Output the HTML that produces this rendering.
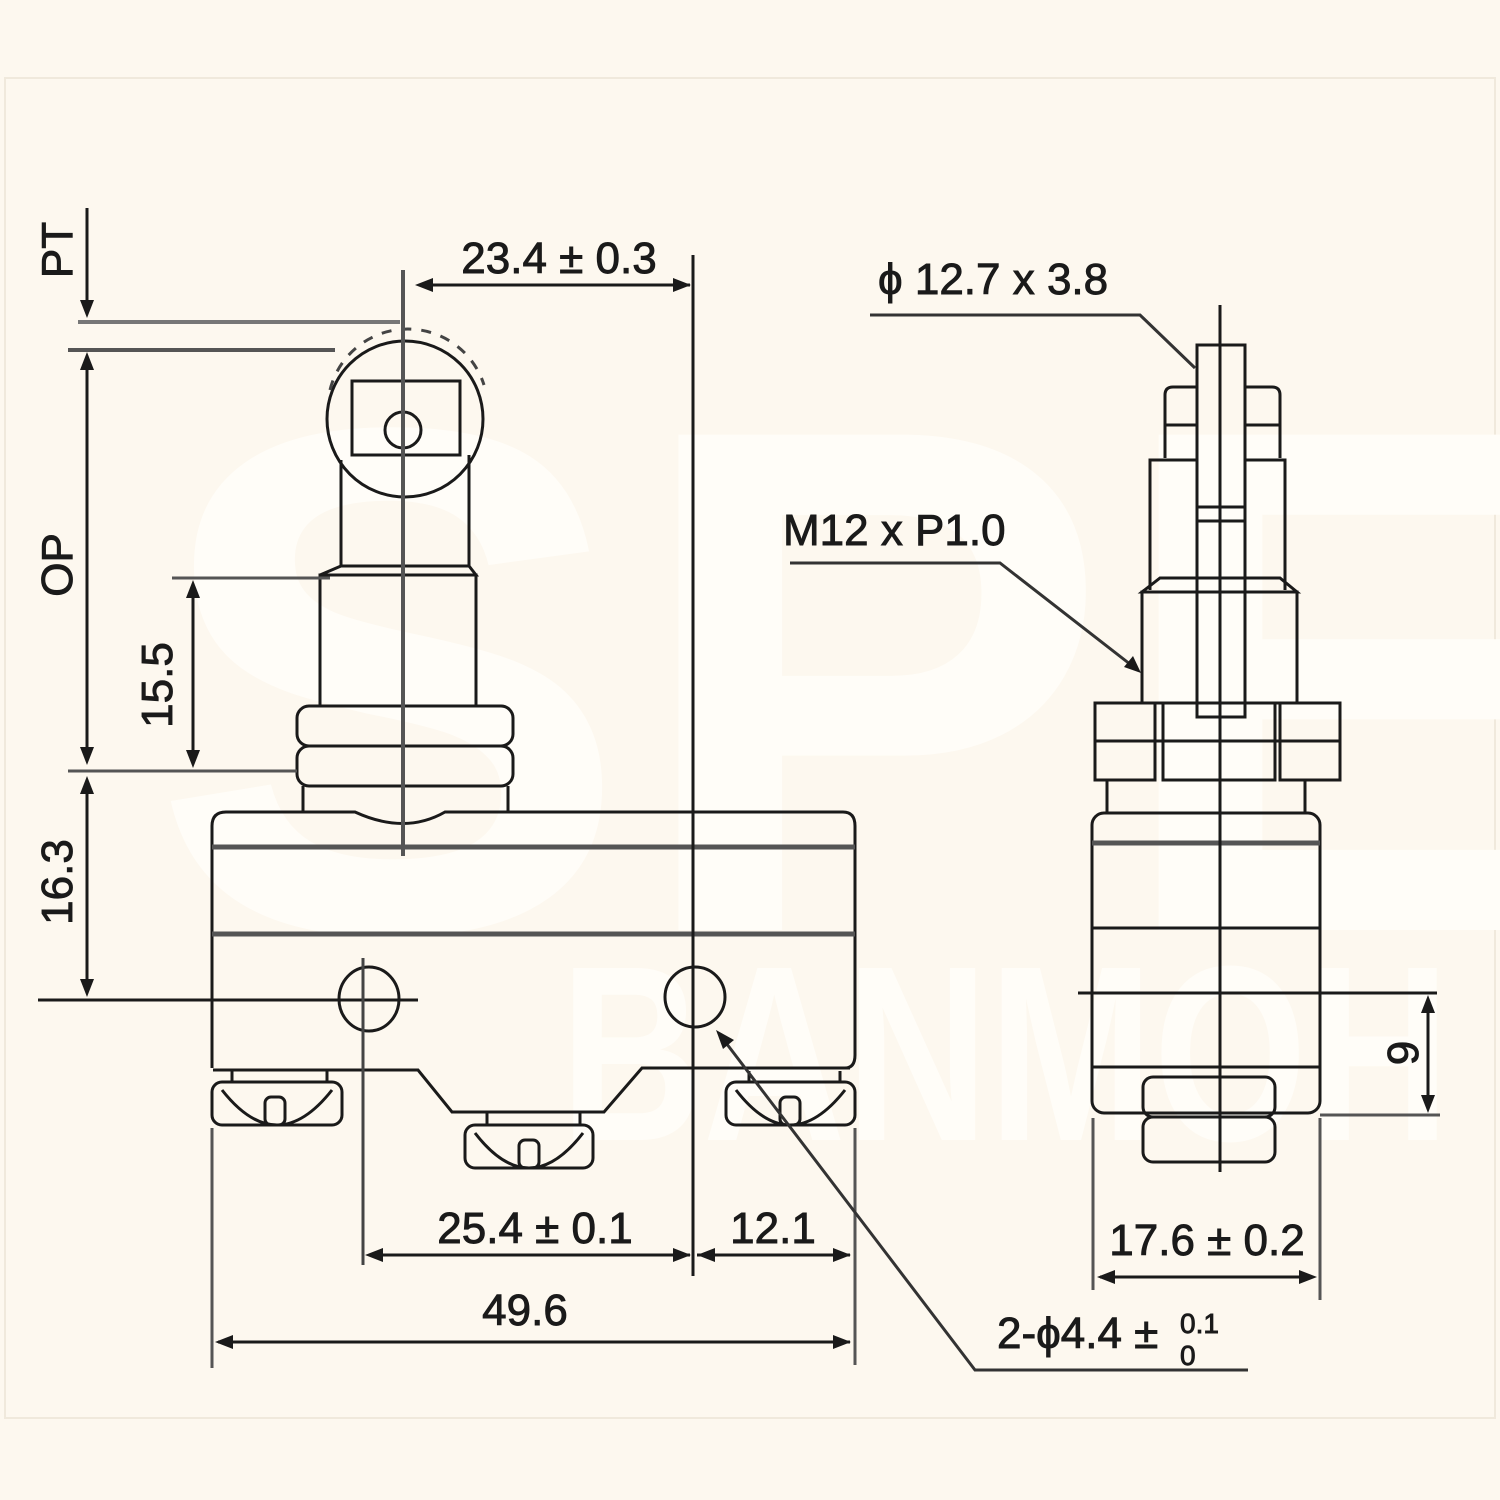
<!DOCTYPE html>
<html><head><meta charset="utf-8"><style>
html,body{margin:0;padding:0;background:#fdf8ef;}
svg{display:block}
text{font-family:"Liberation Sans",sans-serif;fill:#1a1a1a;stroke:#1a1a1a;stroke-width:0.9;}
</style></head><body>
<svg width="1500" height="1500" viewBox="0 0 1500 1500" xmlns="http://www.w3.org/2000/svg">
<rect width="1500" height="1500" fill="#fdf8ef"/>
<rect x="5" y="78" width="1490" height="1340" fill="#fdf8ef" stroke="#f0e9dc" stroke-width="2"/>
<!-- watermark -->
<text x="150" y="930" font-size="720" font-weight="bold" style="fill:#fffdf8;stroke:none">SPE</text>
<text x="560" y="1140" font-size="250" font-weight="bold" style="fill:#fffdf8;stroke:none" textLength="890" lengthAdjust="spacingAndGlyphs">BANMOH</text>

<g fill="none" stroke="#1a1a1a" stroke-width="3">
<circle cx="405" cy="419" r="78"/>
<path d="M330 390 A80 80 0 0 1 484 385" stroke-dasharray="10 10" stroke="#444"/>
<rect x="352" y="381" width="108" height="74"/>
<circle cx="403" cy="430" r="18"/>
<path d="M341 460 V566 M469 455 V566"/>
<path d="M341 566 H469 L476 575 H320 Z"/>
<rect x="320" y="575" width="156" height="131"/>
<rect x="297" y="706" width="216" height="40" rx="12"/>
<rect x="297" y="746" width="216" height="40" rx="12"/>
<path d="M303 786 V812 M508 786 V812"/>
<path d="M226 812 H355 Q405 835 445 812 H843 Q855 812 855 826 V1055 Q855 1068 845 1068 M212 826 Q212 812 226 812 M212 826 V1068"/>
<line x1="212" y1="847" x2="855" y2="847" stroke="#555" stroke-width="5"/>
<line x1="212" y1="934" x2="855" y2="934" stroke="#555" stroke-width="5"/>
<ellipse cx="369" cy="999" rx="30" ry="32"/>
<circle cx="695" cy="997" r="30"/>
<path d="M213 1070 H418 L452 1112 H604 L642 1068 H850"/>
<g>
<rect x="212" y="1082" width="130" height="43" rx="10"/>
<path d="M222 1090 Q277 1160 332 1090"/><rect x="265" y="1097" width="20" height="28" rx="6"/>
<path d="M232 1082 V1071 M327 1082 V1071"/>
</g>
<g>
<rect x="465" y="1125" width="128" height="43" rx="10"/>
<path d="M475 1133 Q529 1203 583 1133"/><rect x="519" y="1140" width="20" height="28" rx="6"/>
<path d="M487 1125 V1113 M580 1125 V1113"/>
</g>
<g>
<rect x="726" y="1082" width="129" height="43" rx="10"/>
<path d="M736 1090 Q790 1160 845 1090"/><rect x="780" y="1097" width="20" height="28" rx="6"/>
<path d="M749 1082 V1071 M840 1082 V1071"/>
</g>
<line x1="403" y1="270" x2="403" y2="856" stroke="#555" stroke-width="4"/>
<line x1="693" y1="255" x2="693" y2="1276"/>
<line x1="38" y1="1000" x2="418" y2="1000"/>
<line x1="363" y1="958" x2="363" y2="1265" stroke="#444"/>
<line x1="78" y1="322" x2="400" y2="322" stroke="#777" stroke-width="4"/>
<line x1="68" y1="350" x2="335" y2="350" stroke="#555" stroke-width="4"/>
<line x1="87" y1="208" x2="87" y2="312"/>
<line x1="87" y1="360" x2="87" y2="758"/>
<line x1="172" y1="578" x2="330" y2="578" stroke="#555"/>
<line x1="193" y1="588" x2="193" y2="760"/>
<line x1="68" y1="771" x2="297" y2="771" stroke="#555"/>
<line x1="87" y1="785" x2="87" y2="992"/>
<line x1="425" y1="285" x2="690" y2="285"/>
<line x1="370" y1="1255" x2="690" y2="1255"/>
<line x1="697" y1="1255" x2="850" y2="1255"/>
<line x1="212" y1="1128" x2="212" y2="1368" stroke="#555"/>
<line x1="855" y1="1128" x2="855" y2="1365" stroke="#555"/>
<line x1="218" y1="1342" x2="850" y2="1342"/>
<path d="M720 1035 L975 1370 H1248" stroke="#333"/>

<rect x="1197" y="345" width="48" height="372"/>
<path d="M1197 507 H1245 M1197 521 H1245"/>
<path d="M1165 458 V395 Q1165 387 1173 387 H1197 M1245 387 H1272 Q1280 387 1280 395 V458"/>
<path d="M1165 425 H1197 M1245 425 H1280"/>
<path d="M1150 590 V460 H1197 M1245 460 H1285 V590"/>
<path d="M1160 578 H1280 L1297 592 H1142 Z"/>
<rect x="1142" y="592" width="155" height="111"/>
<rect x="1095" y="703" width="60" height="77"/>
<rect x="1163" y="703" width="112" height="77"/>
<rect x="1280" y="703" width="60" height="77"/>
<path d="M1095 741 H1340"/>
<path d="M1107 780 V813 M1305 780 V813"/>
<rect x="1092" y="813" width="228" height="300" rx="12"/>
<line x1="1092" y1="843" x2="1320" y2="843" stroke="#555" stroke-width="5"/>
<path d="M1092 928 H1320 M1092 1067 H1320"/>
<rect x="1143" y="1077" width="132" height="40" rx="10"/>
<rect x="1143" y="1117" width="132" height="45" rx="10"/>
<line x1="1220" y1="305" x2="1220" y2="1172"/>
<line x1="1078" y1="993" x2="1437" y2="993"/>
<line x1="1320" y1="1115" x2="1440" y2="1115" stroke="#555"/>
<line x1="1428" y1="1005" x2="1428" y2="1103"/>
<line x1="1093" y1="1118" x2="1093" y2="1290" stroke="#555"/>
<line x1="1320" y1="1118" x2="1320" y2="1300" stroke="#555"/>
<line x1="1100" y1="1277" x2="1313" y2="1277"/>
<path d="M790 563 H1000 L1135 668" stroke="#333"/>
<path d="M870 315 H1140 L1195 368" stroke="#333"/>
</g>
<g fill="#1a1a1a">
<path d="M87 318 l-7 -18 h14 z"/>
<path d="M87 352 l-7 18 h14 z"/><path d="M87 765 l-7 -18 h14 z"/>
<path d="M193 580 l-7 18 h14 z"/><path d="M193 768 l-7 -18 h14 z"/>
<path d="M87 776 l-7 18 h14 z"/><path d="M87 997 l-7 -18 h14 z"/>
<path d="M415 285 l18 -7 v14 z"/><path d="M691 285 l-18 -7 v14 z"/>
<path d="M365 1255 l18 -7 v14 z"/><path d="M691 1255 l-18 -7 v14 z"/>
<path d="M697 1255 l18 -7 v14 z"/><path d="M851 1255 l-18 -7 v14 z"/>
<path d="M215 1342 l18 -7 v14 z"/><path d="M851 1342 l-18 -7 v14 z"/>
<path d="M716 1030 l18 10 l-11 9 z"/>
<path d="M1428 995 l-7 18 h14 z"/><path d="M1428 1113 l-7 -18 h14 z"/>
<path d="M1097 1277 l18 -7 v14 z"/><path d="M1317 1277 l-18 -7 v14 z"/>
<path d="M1141 673 l-17 -6 l9 -11 z"/>
</g>
<g font-size="44">
<text x="559" y="273" text-anchor="middle">23.4 ± 0.3</text>
<text x="535" y="1243" text-anchor="middle">25.4 ± 0.1</text>
<text x="773" y="1243" text-anchor="middle">12.1</text>
<text x="525" y="1325" text-anchor="middle">49.6</text>
<text x="1207" y="1255" text-anchor="middle">17.6 ± 0.2</text>
<text x="878" y="294">ϕ 12.7 x 3.8</text>
<text x="783" y="545">M12 x P1.0</text>
<text x="997" y="1348">2-ϕ4.4 ±</text>
<text x="1180" y="1333" font-size="28">0.1</text>
<text x="1180" y="1365" font-size="28">0</text>
<text transform="translate(72,250) rotate(-90)" text-anchor="middle">PT</text>
<text transform="translate(72,565) rotate(-90)" text-anchor="middle">OP</text>
<text transform="translate(172,685) rotate(-90)" text-anchor="middle">15.5</text>
<text transform="translate(72,882) rotate(-90)" text-anchor="middle">16.3</text>
<text transform="translate(1418,1053) rotate(-90)" text-anchor="middle">9</text>
</g>
</svg>
</body></html>
